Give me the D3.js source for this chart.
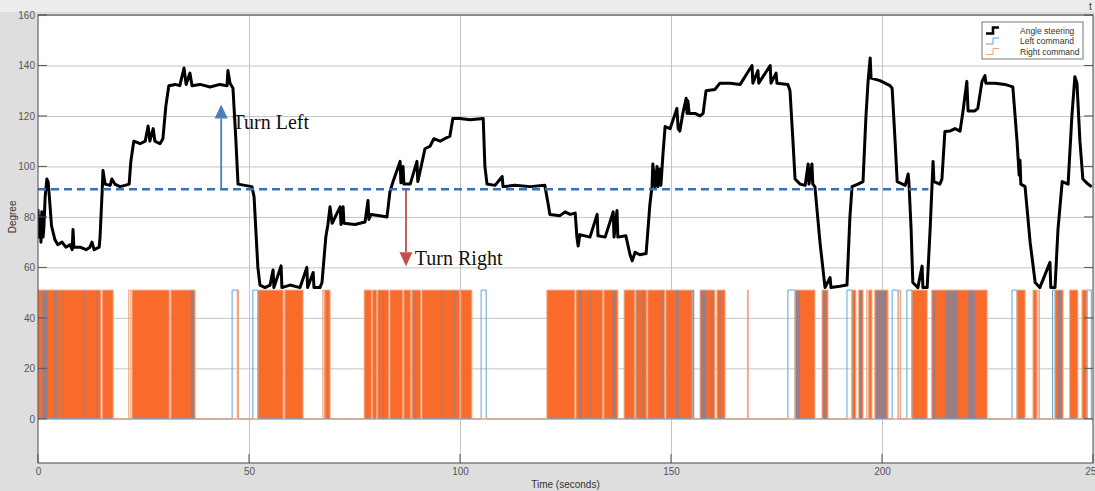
<!DOCTYPE html>
<html>
<head>
<meta charset="utf-8">
<script src="https://cdn.jsdelivr.net/npm/d3@7"></script>
<style>
  body { margin: 0; background: #dedede; }
  text { font-family: "Liberation Sans", Arial, sans-serif; }
</style>
</head>
<body>
<div id="chart"></div>
<script>
// angle steering, [time (s), degree]
const steering = [
  [0,83],[0.2,72],[0.5,80],[0.7,70],[0.9,82],[1.2,72],[1.4,76],[1.7,88],[2.1,95],[2.4,94],[2.6,90],
  [3.2,76.5],[4.0,71],[4.7,69],[5.7,70],[6.6,68],[7.6,69],[8.1,67],[8.3,75],[8.5,68],[10.0,68],
  [11.4,67],[12.3,68],[12.8,70],[13.3,67],[14.5,68],[14.7,72],[15.2,90],[15.4,98.4],[15.9,93],
  [17.1,92.5],[17.5,95],[18.2,93],[19.4,92],[20.6,92.5],[21.6,93],[22.0,102],[22.7,110],[24.2,109],
  [25.4,110],[26.1,116],[26.5,110],[27.3,115],[27.7,110],[28.9,109],[29.6,111],[30.3,124],[31.0,132],
  [32.5,132.5],[33.6,132],[34.6,139],[35.1,132.5],[36.0,137],[36.5,132],[38.4,132.5],[40.8,131.5],
  [43.1,132.5],[44.8,132],[45.0,138],[45.5,133],[46.2,131],[46.9,110],[47.4,93],[49.0,92.5],[50.7,92],
  [51.2,88],[52.1,60],[52.6,53],[53.8,52],[55.0,53],[55.7,59],[55.9,52],[57.6,60.6],[57.8,52],
  [59.7,53],[62.1,52],[63.7,60],[63.9,52],[65.2,58],[65.4,52],[66.8,52],[67.3,54],[68.2,72],[68.7,77],
  [69.2,84],[69.7,77.5],[71.6,84],[71.8,77],[72.3,84],[72.5,77.5],[75.1,77],[77.5,78],[78.2,86.5],
  [78.4,79],[78.9,81],[81.0,80.5],[82.7,80],[83.4,90],[84.1,93.8],[85.8,102],[86.0,93.5],[86.5,100],
  [86.7,93],[88.2,93],[89.8,102],[90.0,94],[90.8,100],[91.7,107],[92.9,108],[93.8,111],[95.3,110],
  [96.4,111],[97.6,112],[98.3,119],[100.0,119],[102.4,118.5],[105.5,119],[105.9,100],[106.4,93],
  [108.3,92.5],[110.0,96],[110.2,92],[113.0,92.5],[116.6,92],[120.1,92.5],[120.9,85],[121.3,81],
  [123.7,80.5],[124.9,82],[126.1,81],[127.3,81.5],[127.7,72],[128.0,68.5],[128.4,73],[130.8,72],
  [132.5,81],[132.7,72.5],[134.4,72],[136.3,82],[136.5,72],[137.2,82.5],[137.4,72],[139.3,72.5],
  [140.3,65],[140.8,62.6],[141.5,66],[142.6,65],[144.1,65.5],[145.0,85],[145.5,92],[145.7,101],
  [146.2,92],[146.7,100],[146.9,92],[147.4,99],[147.6,92.5],[148.1,105],[148.6,115.8],[149.8,115],
  [151.4,123],[151.7,115],[152.1,114],[152.8,121],[153.6,127],[153.8,121],[154.0,126],[154.3,121],
  [155.7,121],[156.9,120],[157.6,121],[158.3,130],[160.4,130.5],[161.6,133],[164.0,133],[166.4,132.5],
  [169.2,140],[169.4,133],[170.6,138],[170.8,133],[173.5,140],[173.7,133],[174.9,137],[175.1,133],
  [177.7,132.5],[178.2,130],[178.9,110],[179.4,95],[180.6,93],[181.8,92.5],[182.5,101],[182.7,93],
  [183.4,101],[183.6,93],[184.1,92],[185.3,70],[186.5,52],[187.7,56],[187.9,52],[190.0,52.5],
  [191.7,53],[192.4,80],[192.9,92],[194.3,93],[195.5,94],[196.2,120],[196.7,133.7],[197.2,143],
  [197.4,135],[199.5,134],[201.9,132],[202.4,131],[203.1,110],[203.6,94],[205.5,92.5],[206.2,97],
  [206.4,93],[206.9,75],[207.3,54],[208.5,52],[209.5,60.5],[209.7,52],[210.7,52],[211.4,75],
  [212.1,102],[212.3,94],[213.7,93],[214.2,95],[214.9,113.8],[216.1,114],[217.3,115],[218.5,114],
  [219.2,122],[220.1,133.7],[220.4,122],[222.0,122],[222.7,123],[223.7,133.7],[224.4,136],[224.6,133],
  [226.8,133],[229.1,132.5],[231.0,131.5],[232.0,110],[232.5,96.5],[232.7,102.5],[232.9,93],[233.9,92],
  [235.1,70],[236.3,54],[237.4,52],[239.8,62],[240.0,52],[241.0,52],[241.7,75],[242.7,94],[244.1,93],
  [245.0,120],[245.7,135.5],[246.2,133],[246.9,110],[247.6,95],[248.8,93],[249.7,92]
];

// right command: stretches of fast toggling (look solid) and single pulses
const rightBlocks = [
  [0,14.9],[15.3,17.8],[22.3,31.1],[31.5,37.2],[52.1,58.1],[58.5,62.8],[68.0,69.2],[77.3,79.0],
  [79.3,80.2],[80.5,83.1],[83.4,86.4],[86.7,88.3],[88.6,90.7],[91.0,99.9],[100.2,102.8],
  [120.6,127.2],[127.5,133.8],[134.1,137.4],[138.9,141.4],[141.7,144.2],[144.5,148.5],[148.8,155.0],
  [156.9,160.4],[160.9,162.8],[179.4,184.1],[185.8,187.2],[192.9,193.8],[194.5,195.5],[196.9,197.6],
  [198.3,201.4],[207.1,210.7],[211.8,224.9],[232.0,233.9],[235.8,236.7],[241.0,242.9],[244.5,246.4],
  [247.4,248.6]
];
const rightPulses = [
  [21.5,22.0],[47.2,47.5],[67.5,67.8],[168.1,168.3],[196.4,196.7],[204.0,204.4],[237.0,237.3]
];

// left command: fast toggling inside the orange stretches, and single pulses
const leftBlocks = [
  [1.0,2.3],[3.9,4.5],[5.8,6.0],[10.8,11.0],[13.9,14.1],[36.2,36.9],[67.9,68.2],[81.7,81.9],
  [89.2,89.4],[95.6,95.8],[98.5,98.7],[128.2,128.9],[130.7,130.9],[136.2,136.9],[141.6,142.0],
  [143.2,143.6],[147.8,148.0],[151.2,151.8],[155.1,155.4],[157.0,158.4],[159.6,159.8],[161.5,161.7],
  [179.6,180.6],[186.0,186.8],[194.6,195.3],[198.6,201.0],[212.0,212.6],[215.0,218.0],[220.4,222.0],
  [241.6,242.6]
];
const leftPulses = [
  [46.0,47.4],[50.9,52.1],[105.0,106.2],[155.1,155.4],[177.7,179.4],[191.7,192.9],[202.4,203.8],
  [205.9,207.1],[230.8,232.0],[240.4,241.0],[248.6,249.6]
];

const commandHigh = 51;
const threshold = 91;          // straight-ahead angle
const thresholdEnd = 211;
const yTicks = [0, 20, 40, 60, 80, 100, 120, 140, 160];
const xTicks = [0, 50, 100, 150, 200, 250];
const legendLabels = ["Angle steering", "Left command", "Right command"];

// set the dimensions and margins of the graph
const margin = {top: 15, right: 2, bottom: 28, left: 38},
    width = 1095 - margin.left - margin.right,
    height = 491 - margin.top - margin.bottom;

const root = d3.select("#chart")
  .append("svg")
  .attr("width", 1095)
  .attr("height", 491);

// lighter strip above the axes
root.append("rect").attr("width", 1095).attr("height", 12).attr("fill", "#ededed");

const svg = root.append("g")
  .attr("transform", `translate(${margin.left},${margin.top})`);

svg.append("clipPath").attr("id", "clip")
  .append("rect").attr("width", width).attr("height", height);

svg.append("rect")
  .attr("width", width).attr("height", height)
  .attr("fill", "#fff");

const x = d3.scaleLinear().domain([0, 250]).range([0, width]);
const y = d3.scaleLinear().domain([-17.5, 160]).range([height, 0]);

// grid
svg.append("g")
  .attr("class", "grid")
  .call(d3.axisLeft(y).tickValues(yTicks).tickSize(-width).tickFormat(""))
  .call(g => g.select(".domain").remove())
  .call(g => g.selectAll("line").attr("stroke", "#c4c4c4"));

svg.append("g")
  .attr("class", "grid")
  .attr("transform", `translate(0,${height})`)
  .call(d3.axisBottom(x).tickValues(xTicks.slice(1, 5)).tickSize(-height).tickFormat(""))
  .call(g => g.select(".domain").remove())
  .call(g => g.selectAll("line").attr("stroke", "#c4c4c4"));

const plot = svg.append("g").attr("clip-path", "url(#clip)");

// step line through on-intervals
function stepPoints(intervals) {
  const pts = [[0, 0]];
  intervals.slice().sort((a, b) => a[0] - b[0]).forEach(d => {
    pts.push([d[0], 0], [d[0], commandHigh], [d[1], commandHigh], [d[1], 0]);
  });
  pts.push([250, 0]);
  return pts;
}
const line = d3.line().x(d => x(d[0])).y(d => y(d[1]));

// right command
plot.selectAll(".rblock")
  .data(rightBlocks)
  .enter().append("rect")
  .attr("class", "rblock")
  .attr("x", d => x(d[0]))
  .attr("width", d => x(d[1]) - x(d[0]))
  .attr("y", y(commandHigh))
  .attr("height", y(0) - y(commandHigh))
  .attr("fill", "#f96b2b");

// left command (mixed with the orange underneath)
plot.selectAll(".lblock")
  .data(leftBlocks)
  .enter().append("rect")
  .attr("class", "lblock")
  .attr("x", d => x(d[0]))
  .attr("width", d => Math.max(1, x(d[1]) - x(d[0])))
  .attr("y", y(commandHigh))
  .attr("height", y(0) - y(commandHigh))
  .attr("fill", "#9a7e86");

plot.append("path")
  .attr("d", line(stepPoints(leftPulses)))
  .attr("fill", "none")
  .attr("stroke", "#5fa6d8")
  .attr("stroke-width", 1);

plot.append("path")
  .attr("d", line(stepPoints(rightBlocks.concat(rightPulses))))
  .attr("fill", "none")
  .attr("stroke", "#f2a078")
  .attr("stroke-width", 1);

// angle steering
plot.append("path")
  .attr("d", line(steering))
  .attr("fill", "none")
  .attr("stroke", "#000")
  .attr("stroke-width", 3)
  .attr("stroke-linejoin", "round");

// threshold
plot.append("line")
  .attr("x1", x(0)).attr("x2", x(thresholdEnd))
  .attr("y1", y(threshold)).attr("y2", y(threshold))
  .attr("stroke", "#3f6fb3")
  .attr("stroke-width", 2.5)
  .attr("stroke-dasharray", "8,5");

// annotation arrows
function arrow(t, from, to, color) {
  const dir = to > from ? 1 : -1;
  const tipY = y(to), baseY = tipY + dir * 14;
  svg.append("line")
    .attr("x1", x(t)).attr("x2", x(t))
    .attr("y1", y(from)).attr("y2", baseY)
    .attr("stroke", color).attr("stroke-width", 1.8);
  svg.append("path")
    .attr("d", `M${x(t)},${tipY}L${x(t) - 6.5},${baseY}L${x(t) + 6.5},${baseY}Z`)
    .attr("fill", color);
}
arrow(43.4, threshold, 124.5, "#4a7ebb");
arrow(87.2, threshold, 60.5, "#c0504d");

svg.append("text")
  .attr("x", x(46.1)).attr("y", y(115))
  .style("font-family", "'Liberation Serif', 'Times New Roman', serif")
  .style("font-size", "20px")
  .attr("fill", "#111")
  .text("Turn Left");

svg.append("text")
  .attr("x", x(89.3)).attr("y", y(61))
  .style("font-family", "'Liberation Serif', 'Times New Roman', serif")
  .style("font-size", "20px")
  .attr("fill", "#111")
  .text("Turn Right");

// axes
svg.append("g")
  .attr("class", "y axis")
  .call(d3.axisLeft(y).tickValues(yTicks).tickSize(0).tickPadding(3))
  .call(g => g.select(".domain").remove())
  .call(g => g.selectAll("text").attr("fill", "#555").style("font-size", "10px"));

svg.append("g")
  .attr("class", "x axis")
  .attr("transform", `translate(0,${height})`)
  .call(d3.axisBottom(x).tickValues(xTicks).tickSize(0).tickPadding(5))
  .call(g => g.select(".domain").remove())
  .call(g => g.selectAll("text").attr("fill", "#555").style("font-size", "10px"));

// inward tick marks
svg.append("g").selectAll("line")
  .data(yTicks).enter().append("line")
  .attr("x1", 0).attr("x2", 9)
  .attr("y1", d => y(d)).attr("y2", d => y(d))
  .attr("stroke", "#555");
svg.append("g").selectAll("line")
  .data(yTicks).enter().append("line")
  .attr("x1", width - 9).attr("x2", width)
  .attr("y1", d => y(d)).attr("y2", d => y(d))
  .attr("stroke", "#555");
svg.append("g").selectAll("line")
  .data(xTicks).enter().append("line")
  .attr("x1", d => x(d)).attr("x2", d => x(d))
  .attr("y1", height - 9).attr("y2", height)
  .attr("stroke", "#555");

svg.append("rect")
  .attr("width", width).attr("height", height)
  .attr("fill", "none")
  .attr("stroke", "#4a4a4a");

svg.append("text")
  .attr("x", width / 2).attr("y", height + 25)
  .attr("text-anchor", "middle")
  .style("font-size", "10px")
  .attr("fill", "#333")
  .text("Time (seconds)");

svg.append("text")
  .attr("transform", "rotate(-90)")
  .attr("x", -(y(80))).attr("y", -22)
  .attr("text-anchor", "middle")
  .style("font-size", "10px")
  .attr("fill", "#333")
  .text("Degree");

root.append("text")
  .attr("x", 1089).attr("y", 10)
  .style("font-size", "10px")
  .attr("fill", "#333")
  .text("t");

// legend
const legend = svg.append("g").attr("transform", `translate(${width - 111},7)`);
legend.append("rect")
  .attr("width", 101).attr("height", 37)
  .attr("fill", "#fff").attr("stroke", "#777");
const legendColors = ["#000", "#5fa6d8", "#f2a078"];
legendLabels.forEach((label, i) => {
  const cy = 8.5 + i * 10.5;
  legend.append("path")
    .attr("d", `M4,${cy + 3}H11V${cy - 3}H17`)
    .attr("fill", "none")
    .attr("stroke", legendColors[i])
    .attr("stroke-width", i === 0 ? 2.6 : 1);
  legend.append("text")
    .attr("x", 38).attr("y", cy + 3)
    .style("font-size", "8.5px")
    .attr("fill", "#333")
    .text(label);
});
</script>
</body>
</html>
